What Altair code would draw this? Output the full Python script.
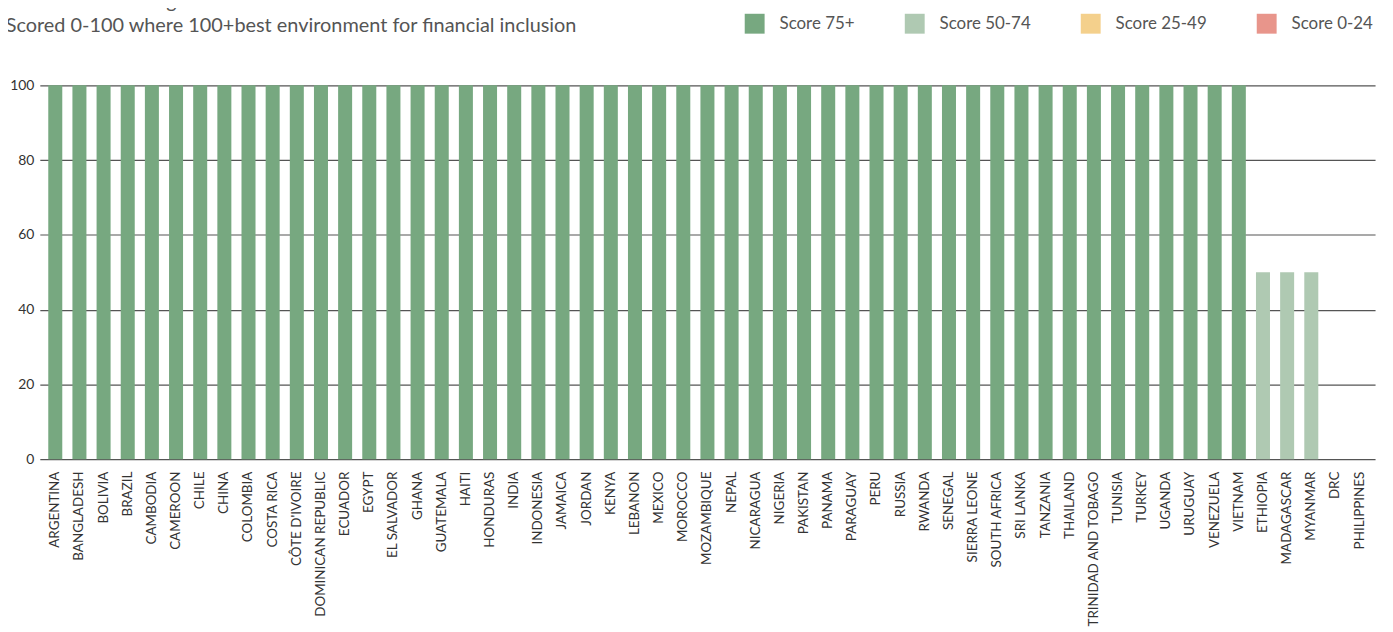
import altair as alt
import pandas as pd

countries = [
    "ARGENTINA", "BANGLADESH", "BOLIVIA", "BRAZIL", "CAMBODIA", "CAMEROON", "CHILE", "CHINA",
    "COLOMBIA", "COSTA RICA", "CÔTE D'IVOIRE", "DOMINICAN REPUBLIC", "ECUADOR", "EGYPT",
    "EL SALVADOR", "GHANA", "GUATEMALA", "HAITI", "HONDURAS", "INDIA", "INDONESIA", "JAMAICA",
    "JORDAN", "KENYA", "LEBANON", "MEXICO", "MOROCCO", "MOZAMBIQUE", "NEPAL", "NICARAGUA",
    "NIGERIA", "PAKISTAN", "PANAMA", "PARAGUAY", "PERU", "RUSSIA", "RWANDA", "SENEGAL",
    "SIERRA LEONE", "SOUTH AFRICA", "SRI LANKA", "TANZANIA", "THAILAND", "TRINIDAD AND TOBAGO",
    "TUNISIA", "TURKEY", "UGANDA", "URUGUAY", "VENEZUELA", "VIETNAM", "ETHIOPIA", "MADAGASCAR",
    "MYANMAR", "DRC", "PHILIPPINES",
]
scores = [100] * 50 + [50, 50, 50, 0, 0]

bands = ["Score 75+", "Score 50-74", "Score 25-49", "Score 0-24"]
band_colors = ["#77a880", "#afc9b2", "#f4d08c", "#e8958b"]


def band_of(v):
    if v >= 75:
        return bands[0]
    if v >= 50:
        return bands[1]
    if v >= 25:
        return bands[2]
    return bands[3]


df = pd.DataFrame({
    "country": countries,
    "score": scores,
    "band": [band_of(v) for v in scores],
})

FONT = "Lato"

chart = (
    alt.Chart(df)
    .mark_bar()
    .encode(
        x=alt.X(
            "country:N",
            sort=None,
            scale=alt.Scale(paddingInner=0.42, paddingOuter=0.35),
            axis=alt.Axis(
                title=None,
                labelAngle=270,
                labelFontSize=13.5,
                labelColor="#333333",
                labelPadding=12,
                ticks=False,
                domain=False,
                grid=False,
                labelFont=FONT,
            ),
        ),
        y=alt.Y(
            "score:Q",
            scale=alt.Scale(domain=[0, 100]),
            axis=alt.Axis(
                title=None,
                values=[0, 20, 40, 60, 80, 100],
                labelFontSize=14,
                labelColor="#333333",
                labelPadding=6,
                ticks=False,
                domain=False,
                gridColor="#555555",
                gridWidth=1.2,
                labelFont=FONT,
            ),
        ),
        color=alt.Color(
            "band:N",
            scale=alt.Scale(domain=bands, range=band_colors),
            legend=alt.Legend(
                title=None,
                orient="none",
                direction="horizontal",
                legendX=709,
                legendY=-72,
                symbolType="square",
                symbolSize=400,
                symbolStrokeWidth=0,
                labelFontSize=17,
                labelFont=FONT,
                labelColor="#555555",
                labelOffset=15,
                columnPadding=50,
                padding=0,
            ),
        ),
    )
    .properties(
        width=1343,
        height=376,
        autosize=alt.AutoSizeParams(type="none"),
        padding={"left": 32, "top": 76, "right": 10, "bottom": 170},
        title=alt.Title(
            text="Infrastructure > Digital IDs",
            subtitle="Scored 0-100 where 100+best environment for financial inclusion",
            anchor="start",
            dx=-4,
            dy=32,
            offset=10,
            font=FONT,
            fontSize=20,
            fontWeight="normal",
            color="#555555",
            subtitleFont=FONT,
            subtitleFontSize=20,
            subtitleColor="#555555",
            subtitlePadding=4,
        ),
    )
    .configure_view(stroke=None)
)

chart.save("out.html", embed_options={"renderer": "svg", "actions": False})
